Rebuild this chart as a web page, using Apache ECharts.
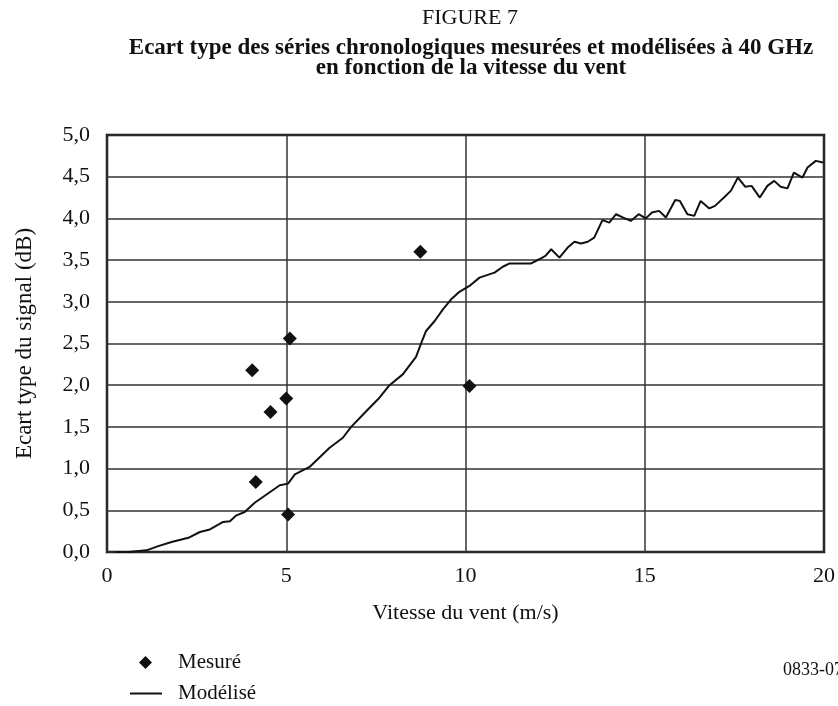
<!DOCTYPE html>
<html>
<head>
<meta charset="utf-8">
<script src="https://cdn.jsdelivr.net/npm/echarts@6/dist/echarts.min.js"></script>
<style>
  html, body { margin: 0; padding: 0; background: #fff; }
  #chart { width: 838px; height: 706px; }
</style>
</head>
<body>
<div id="chart"></div>
<script>
// Mesuré: wind speed (m/s) and signal std dev (dB)
const measuredX = [5.10, 4.05, 5.00, 4.56, 4.15, 5.05, 8.74, 10.11];
const measuredY = [2.56, 2.18, 1.84, 1.68, 0.84, 0.45, 3.60, 1.99];

// Modélisé
const modelX = [0.22, 0.6, 1.1, 1.43, 1.8, 2.27, 2.59, 2.87, 3.24, 3.43, 3.61, 3.84, 4.12, 4.45, 4.82, 5.05,
  5.24, 5.65, 6.21, 6.58, 6.81, 7.19, 7.60, 7.88, 8.25, 8.62, 8.77, 8.90, 9.14, 9.37, 9.60,
  9.83, 10.11, 10.39, 10.81, 11.04, 11.23, 11.83, 12.06, 12.23, 12.39, 12.62, 12.85, 13.04, 13.22, 13.41,
  13.59, 13.82, 14.01, 14.20, 14.40, 14.61, 14.83, 15.03, 15.20, 15.40, 15.59, 15.85, 15.98, 16.19, 16.38,
  16.56, 16.80, 16.96, 17.21, 17.40, 17.60, 17.80, 17.98, 18.21, 18.42, 18.61, 18.79, 18.98, 19.16, 19.40,
  19.54, 19.77, 19.98];
const modelY = [0, 0, 0.02, 0.07, 0.12, 0.17, 0.24, 0.27, 0.36, 0.37, 0.44, 0.48, 0.59, 0.69, 0.80, 0.82,
  0.93, 1.02, 1.25, 1.37, 1.50, 1.67, 1.85, 2.00, 2.13, 2.34, 2.51, 2.65, 2.77, 2.91, 3.03,
  3.12, 3.19, 3.29, 3.35, 3.42, 3.46, 3.46, 3.51, 3.55, 3.63, 3.53, 3.65, 3.72, 3.70, 3.72,
  3.77, 3.98, 3.95, 4.05, 4.01, 3.97, 4.05, 4.0, 4.07, 4.09, 4.01, 4.22, 4.21, 4.05, 4.03,
  4.21, 4.12, 4.15, 4.25, 4.33, 4.49, 4.38, 4.39, 4.25, 4.39, 4.45, 4.38, 4.36, 4.55, 4.49,
  4.61, 4.69, 4.67];

const seriesNames = ["Mesuré", "Modélisé"];
const figureLabel = "FIGURE 7";
const titleLines = "Ecart type des séries chronologiques mesurées et modélisées à 40 GHz\nen fonction de la vitesse du vent";
const docCode = "0833-07";

const fontFamily = "'Liberation Serif', 'DejaVu Serif', serif";
const ink = "#111";

const chart = echarts.init(document.getElementById("chart"), null, { renderer: "canvas" });

chart.setOption({
  animation: false,
  backgroundColor: "#fff",
  title: [
    {
      text: figureLabel,
      left: 465,
      top: 2,
      textAlign: "center",
      textStyle: { fontFamily, fontSize: 22, fontWeight: "normal", color: ink }
    },
    {
      text: titleLines,
      left: 466,
      top: 33,
      textAlign: "center",
      textStyle: { fontFamily, fontSize: 23, fontWeight: "bold", color: ink, lineHeight: 20 }
    }
  ],
  graphic: [
    {
      type: "text",
      left: 783,
      top: 661,
      style: { text: docCode, font: "18px " + fontFamily, fill: ink }
    }
  ],
  grid: {
    left: 107,
    right: 13,
    top: 135,
    bottom: 154,
    show: true,
    borderColor: ink,
    borderWidth: 2.5,
    backgroundColor: "transparent"
  },
  legend: [
    {
      left: 139,
      top: 652,
      padding: 0,
      itemWidth: 13,
      itemHeight: 13,
      textStyle: { fontFamily, fontSize: 21, color: ink, padding: [0, 0, 0, 21] },
      data: [{ name: seriesNames[0], icon: "diamond", itemStyle: { color: ink, opacity: 1 } }]
    },
    {
      left: 130,
      top: 683,
      padding: 0,
      itemWidth: 32,
      itemHeight: 2,
      textStyle: { fontFamily, fontSize: 21, color: ink, padding: [0, 0, 0, 11] },
      data: [{ name: seriesNames[1], icon: "rect", itemStyle: { color: ink } }]
    }
  ],
  xAxis: {
    type: "value",
    min: 0,
    max: 20,
    interval: 5,
    name: "Vitesse du vent (m/s)",
    nameLocation: "middle",
    nameGap: 50,
    nameTextStyle: { fontFamily, fontSize: 22, color: ink },
    axisLine: { show: false },
    axisTick: { show: false },
    axisLabel: { fontFamily, fontSize: 22, color: ink, margin: 13 },
    splitLine: { show: true, lineStyle: { color: "#333", width: 1.5 } }
  },
  yAxis: {
    type: "value",
    min: 0,
    max: 5,
    interval: 0.5,
    name: "Ecart type du signal (dB)",
    nameLocation: "middle",
    nameGap: 71,
    nameTextStyle: { fontFamily, fontSize: 23, color: ink },
    axisLine: { show: false },
    axisTick: { show: false },
    axisLabel: {
      fontFamily,
      fontSize: 22,
      color: ink,
      margin: 17,
      formatter: (v) => v.toFixed(1).replace(".", ",")
    },
    splitLine: { show: true, lineStyle: { color: "#333", width: 1.5 } }
  },
  series: [
    {
      name: seriesNames[0],
      type: "scatter",
      symbol: "diamond",
      symbolSize: 14,
      itemStyle: { color: ink, opacity: 1 },
      data: measuredX.map((x, i) => [x, measuredY[i]]),
      z: 3
    },
    {
      name: seriesNames[1],
      type: "line",
      symbol: "none",
      lineStyle: { color: ink, width: 2 },
      itemStyle: { color: ink },
      data: modelX.map((x, i) => [x, modelY[i]]),
      z: 2
    }
  ]
});
</script>
</body>
</html>
